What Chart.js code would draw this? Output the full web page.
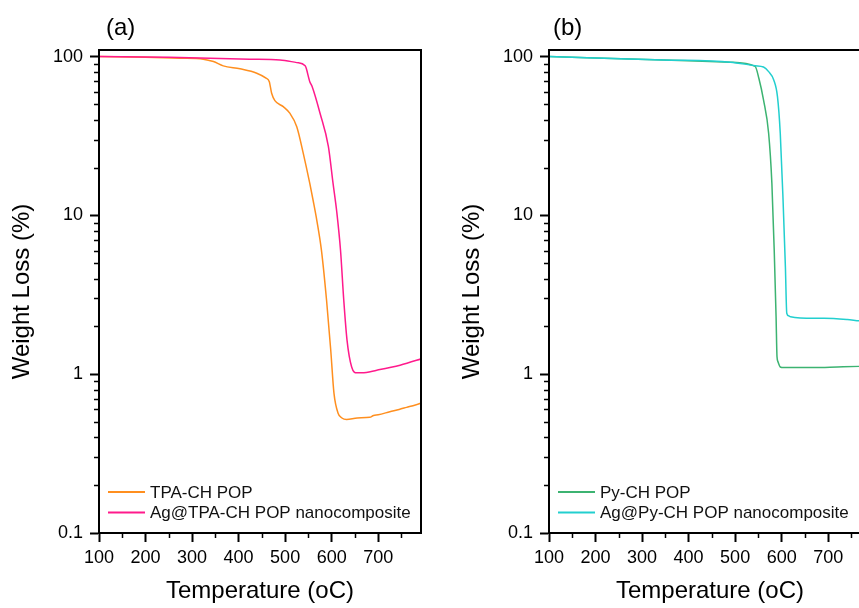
<!DOCTYPE html>
<html>
<head>
<meta charset="utf-8">
<script src="https://cdn.jsdelivr.net/npm/chart.js@4/dist/chart.umd.min.js"></script>
<style>
  html, body { margin: 0; padding: 0; background: #fff; overflow: hidden; width: 859px; height: 608px; }
  canvas { position: absolute; top: 0; }
  #tgaA { left: 0; }
  #tgaB { left: 450px; }
</style>
</head>
<body>
<canvas id="tgaA" width="440" height="608"></canvas>
<canvas id="tgaB" width="440" height="608"></canvas>
<script>
// TGA curves: temperature (°C) vs remaining weight (%)
const tpaTemp = [100, 200, 274, 324, 346, 367, 403, 439, 459, 466, 471, 478, 496, 510, 525, 539, 553, 560, 568, 578, 589, 598, 605, 614, 622, 632, 655, 682, 690, 700, 725, 745, 761, 780, 800];
const tpaWeight = [100, 99.2, 97.7, 96.3, 93.0, 87.4, 83.7, 78.6, 73.1, 69.5, 58.7, 52.8, 48.4, 44.0, 36.2, 24.6, 15.9, 12.5, 9.35, 6.05, 2.93, 1.42, 0.757, 0.566, 0.53, 0.519, 0.53, 0.535, 0.55, 0.555, 0.58, 0.60, 0.618, 0.64, 0.67];

const agTpaTemp = [100, 250, 424, 489, 525, 543, 553, 558, 575, 593, 603, 611, 619, 626, 633, 643, 654, 665, 697, 747, 800];
const agTpaWeight = [100, 99.0, 96.3, 95.3, 91.6, 87.4, 69.5, 64.7, 44.0, 27.1, 15.9, 10.5, 6.05, 2.93, 1.64, 1.11, 1.02, 1.02, 1.06, 1.14, 1.27];

const pyTemp = [100, 346, 490, 543, 551, 561, 572, 579, 584, 588, 590, 592, 597, 604, 619, 669, 720, 767, 800];
const pyWeight = [100, 95.3, 92.2, 86.8, 73.0, 53.3, 32.9, 15.9, 6.05, 2.30, 1.29, 1.20, 1.11, 1.10, 1.10, 1.10, 1.11, 1.12, 1.13];

const agPyTemp = [100, 346, 490, 543, 561, 572, 583, 591, 597, 603, 608, 611, 615, 619, 669, 691, 741, 767, 800];
const agPyWeight = [100, 95.3, 92.2, 87.6, 86.0, 80.4, 71.3, 56.0, 32.9, 12.5, 4.76, 2.42, 2.33, 2.30, 2.25, 2.25, 2.21, 2.17, 2.14];

const xTickValues = [100, 200, 300, 400, 500, 600, 700];
const xMinorValues = [150, 250, 350, 450, 550, 650, 750];
const yTickValues = [0.1, 1, 10, 100];

Chart.defaults.font.family = "'Liberation Sans', Arial, sans-serif";
Chart.defaults.color = '#000';

function toPoints(xs, ys) {
  return xs.map((x, i) => ({ x: x, y: ys[i] }));
}

// box around the plot, minor ticks, panel letter and an inset legend
const framePlugin = {
  id: 'frame',
  afterDraw(chart, args, opts) {
    const { ctx, chartArea: a, scales } = chart;
    ctx.save();
    ctx.strokeStyle = '#000';
    ctx.lineWidth = 2;
    ctx.strokeRect(a.left, a.top, a.right - a.left, a.bottom - a.top);

    ctx.lineWidth = 1.5;
    ctx.beginPath();
    [0.1, 1, 10].forEach(d => {
      for (let k = 2; k <= 9; k++) {
        const y = Math.round(scales.y.getPixelForValue(k * d)) + 0.5;
        ctx.moveTo(a.left - 5, y);
        ctx.lineTo(a.left, y);
      }
    });
    xMinorValues.forEach(v => {
      const x = Math.round(scales.x.getPixelForValue(v)) + 0.5;
      if (x > a.right) return;
      ctx.moveTo(x, a.bottom);
      ctx.lineTo(x, a.bottom + 5);
    });
    ctx.stroke();

    ctx.fillStyle = '#000';
    ctx.font = "24px 'Liberation Sans', Arial, sans-serif";
    ctx.textBaseline = 'middle';
    ctx.fillText(opts.label, a.left + opts.dx, 28);

    ctx.font = "17px 'Liberation Sans', Arial, sans-serif";
    chart.data.datasets.forEach((ds, i) => {
      const y = a.bottom - 41 + i * 20.6;
      ctx.strokeStyle = ds.borderColor;
      ctx.lineWidth = 2;
      ctx.beginPath();
      ctx.moveTo(a.left + 9, y);
      ctx.lineTo(a.left + 46, y);
      ctx.stroke();
      ctx.fillStyle = '#111';
      ctx.fillText(ds.label, a.left + 51, y + 1);
    });
    ctx.restore();
  }
};

function makeChart(id, datasets, label, dx) {
  return new Chart(document.getElementById(id), {
    type: 'line',
    data: { datasets: datasets },
    options: {
      responsive: false,
      animation: false,
      layout: { padding: { left: 0, right: 19, top: 50, bottom: 0 } },
      elements: { point: { radius: 0 }, line: { borderWidth: 1.5, cubicInterpolationMode: 'monotone' } },
      scales: {
        x: {
          type: 'linear',
          min: 100,
          max: 792,
          afterBuildTicks: s => { s.ticks = xTickValues.map(v => ({ value: v })); },
          afterFit: s => { s.height = 75; },
          ticks: { font: { size: 18 }, padding: 5, maxRotation: 0 },
          grid: { drawOnChartArea: false, tickLength: 9, tickWidth: 2, tickColor: '#000' },
          border: { color: '#000', width: 2 },
          title: { display: true, text: 'Temperature (oC)', font: { size: 24 }, padding: { top: 0, bottom: 2 } }
        },
        y: {
          type: 'logarithmic',
          min: 0.1,
          max: 110,
          afterBuildTicks: s => { s.ticks = yTickValues.map(v => ({ value: v })); },
          afterFit: s => { s.width = 99; },
          ticks: { font: { size: 18 }, padding: 7, callback: v => String(v) },
          grid: { drawOnChartArea: false, tickLength: 9, tickWidth: 2, tickColor: '#000' },
          border: { color: '#000', width: 2 },
          title: { display: true, text: 'Weight Loss (%)', font: { size: 24 }, padding: { top: 8, bottom: 0 } }
        }
      },
      plugins: {
        legend: { display: false },
        tooltip: { enabled: false },
        frame: { label: label, dx: dx }
      }
    },
    plugins: [framePlugin]
  });
}

makeChart('tgaA', [
  { label: 'TPA-CH POP', data: toPoints(tpaTemp, tpaWeight), borderColor: '#FF8F1F', order: 1 },
  { label: 'Ag@TPA-CH POP nanocomposite', data: toPoints(agTpaTemp, agTpaWeight), borderColor: '#FF1A8C', order: 0 }
], '(a)', 7);

makeChart('tgaB', [
  { label: 'Py-CH POP', data: toPoints(pyTemp, pyWeight), borderColor: '#3CB371', order: 1 },
  { label: 'Ag@Py-CH POP nanocomposite', data: toPoints(agPyTemp, agPyWeight), borderColor: '#22CFCF', order: 0 }
], '(b)', 4);
</script>
</body>
</html>
